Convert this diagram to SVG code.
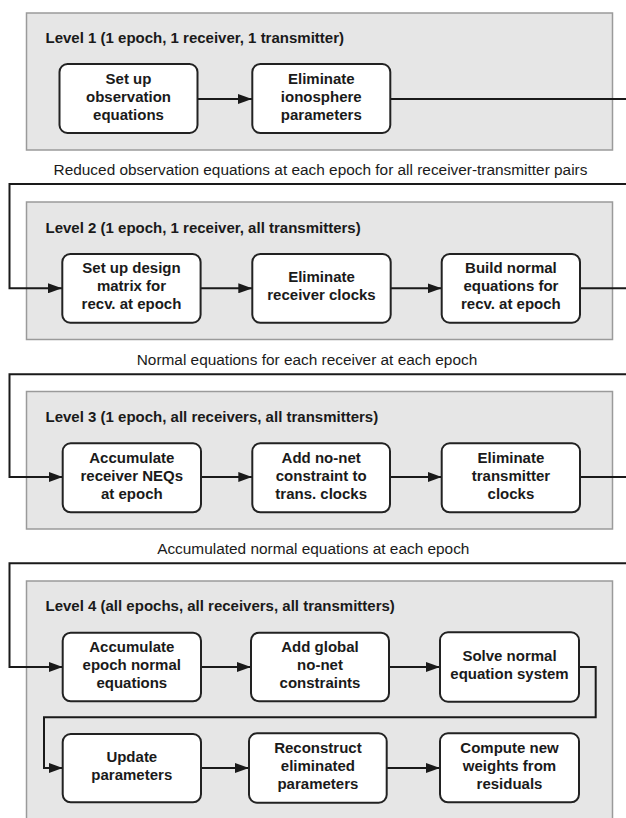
<svg xmlns="http://www.w3.org/2000/svg" width="626" height="818" viewBox="0 0 626 818">
<defs>
<marker id="arr" viewBox="0 0 14 10" refX="14" refY="5" markerWidth="14" markerHeight="10" markerUnits="userSpaceOnUse" orient="auto">
<path d="M0,0 L14,5 L0,10 z" fill="#1a1a1a"/>
</marker>
<style>
.panel{fill:#e6e6e6;stroke:#9a9a9a;stroke-width:1.5}
.node rect{fill:#ffffff;stroke:#222222;stroke-width:2}
.node text{font-family:"Liberation Sans",Arial,sans-serif;font-size:15px;font-weight:bold;fill:#1a1a1a;text-anchor:middle}
.title{font-family:"Liberation Sans",Arial,sans-serif;font-size:15px;font-weight:bold;fill:#1a1a1a}
.cap{font-family:"Liberation Sans",Arial,sans-serif;font-size:15.4px;fill:#1a1a1a;text-anchor:middle}
.c{fill:none;stroke:#1a1a1a;stroke-width:2}
.a{marker-end:url(#arr)}
</style>
</defs>
<rect width="626" height="818" fill="#ffffff"/>

<g id="level1">
<rect class="panel" x="26.5" y="13" width="586" height="137"/>
<text class="title" x="45.5" y="43">Level 1 (1 epoch, 1 receiver, 1 transmitter)</text>
</g>
<g id="level2">
<rect class="panel" x="26.5" y="202" width="586" height="137.5"/>
<text class="title" x="45.5" y="232.5">Level 2 (1 epoch, 1 receiver, all transmitters)</text>
</g>
<g id="level3">
<rect class="panel" x="26.5" y="391.5" width="586" height="137.5"/>
<text class="title" x="45.5" y="421.5">Level 3 (1 epoch, all receivers, all transmitters)</text>
</g>
<g id="level4">
<rect class="panel" x="26.5" y="581" width="586" height="250"/>
<text class="title" x="45.5" y="611">Level 4 (all epochs, all receivers, all transmitters)</text>
</g>

<g id="captions">
<text class="cap" x="320.5" y="175">Reduced observation equations at each epoch for all receiver-transmitter pairs</text>
<text class="cap" x="307" y="365">Normal equations for each receiver at each epoch</text>
<text class="cap" x="313.3" y="554">Accumulated normal equations at each epoch</text>
</g>

<g id="connectors">
<path class="c a" d="M197,99 H252"/>
<path class="c" d="M390,99 H627"/>
<path class="c a" d="M627,184 H9.5 V288.3 H62"/>
<path class="c a" d="M200.5,288.3 H252.3"/>
<path class="c a" d="M390.7,288.3 H441.7"/>
<path class="c" d="M580,288.3 H627"/>
<path class="c a" d="M627,374.3 H9.5 V477 H62.7"/>
<path class="c a" d="M201,477 H252.3"/>
<path class="c a" d="M390,477 H441.7"/>
<path class="c" d="M580,477 H627"/>
<path class="c a" d="M627,563.3 H9.5 V667 H62.7"/>
<path class="c a" d="M201,667 H251"/>
<path class="c a" d="M389,667 H440"/>
<path class="c a" d="M579,667 H595.7 V717.3 H44 V768 H62.7"/>
<path class="c a" d="M201,768 H249"/>
<path class="c a" d="M386.7,768 H440"/>
</g>

<g id="n1" class="node"><rect x="59.5" y="64" width="138" height="69" rx="8"/>
<text x="128.5"><tspan x="128.5" y="83.5">Set up</tspan><tspan x="128.5" y="101.5">observation</tspan><tspan x="128.5" y="119.5">equations</tspan></text></g>
<g id="n2" class="node"><rect x="252.3" y="64" width="138" height="69" rx="8"/>
<text><tspan x="321.3" y="83.5">Eliminate</tspan><tspan x="321.3" y="101.5">ionosphere</tspan><tspan x="321.3" y="119.5">parameters</tspan></text></g>

<g id="n3" class="node"><rect x="62.3" y="254" width="138.3" height="68.7" rx="8"/>
<text><tspan x="131.5" y="273.3">Set up design</tspan><tspan x="131.5" y="291.3">matrix for</tspan><tspan x="131.5" y="309.3">recv. at epoch</tspan></text></g>
<g id="n4" class="node"><rect x="252.3" y="254" width="138.4" height="68.7" rx="8"/>
<text><tspan x="321.5" y="282">Eliminate</tspan><tspan x="321.5" y="300">receiver clocks</tspan></text></g>
<g id="n5" class="node"><rect x="441.7" y="254" width="138.3" height="68.7" rx="8"/>
<text><tspan x="510.9" y="273.3">Build normal</tspan><tspan x="510.9" y="291.3">equations for</tspan><tspan x="510.9" y="309.3">recv. at epoch</tspan></text></g>

<g id="n6" class="node"><rect x="62.7" y="443.3" width="138.3" height="69" rx="8"/>
<text><tspan x="131.8" y="462.8">Accumulate</tspan><tspan x="131.8" y="480.8">receiver NEQs</tspan><tspan x="131.8" y="498.8">at epoch</tspan></text></g>
<g id="n7" class="node"><rect x="252.3" y="443.3" width="137.7" height="69" rx="8"/>
<text><tspan x="321.2" y="462.8">Add no-net</tspan><tspan x="321.2" y="480.8">constraint to</tspan><tspan x="321.2" y="498.8">trans. clocks</tspan></text></g>
<g id="n8" class="node"><rect x="441.7" y="443.3" width="138.3" height="69" rx="8"/>
<text><tspan x="510.9" y="462.8">Eliminate</tspan><tspan x="510.9" y="480.8">transmitter</tspan><tspan x="510.9" y="498.8">clocks</tspan></text></g>

<g id="n9" class="node"><rect x="62.7" y="632.7" width="138.3" height="68.6" rx="8"/>
<text><tspan x="131.8" y="652">Accumulate</tspan><tspan x="131.8" y="670">epoch normal</tspan><tspan x="131.8" y="688">equations</tspan></text></g>
<g id="n10" class="node"><rect x="251" y="632.7" width="138" height="68.6" rx="8"/>
<text><tspan x="320" y="652">Add global</tspan><tspan x="320" y="670">no-net</tspan><tspan x="320" y="688">constraints</tspan></text></g>
<g id="n11" class="node"><rect x="440" y="632.3" width="139" height="69.4" rx="8"/>
<text><tspan x="509.5" y="660.5">Solve normal</tspan><tspan x="509.5" y="678.5">equation system</tspan></text></g>

<g id="n12" class="node"><rect x="62.7" y="734" width="138.3" height="68.3" rx="8"/>
<text><tspan x="131.8" y="761.5">Update</tspan><tspan x="131.8" y="779.5">parameters</tspan></text></g>
<g id="n13" class="node"><rect x="249" y="733.3" width="137.7" height="69.4" rx="8"/>
<text><tspan x="317.9" y="753">Reconstruct</tspan><tspan x="317.9" y="771">eliminated</tspan><tspan x="317.9" y="789">parameters</tspan></text></g>
<g id="n14" class="node"><rect x="440" y="733.3" width="139" height="69" rx="8"/>
<text><tspan x="509.5" y="753">Compute new</tspan><tspan x="509.5" y="771">weights from</tspan><tspan x="509.5" y="789">residuals</tspan></text></g>
</svg>
